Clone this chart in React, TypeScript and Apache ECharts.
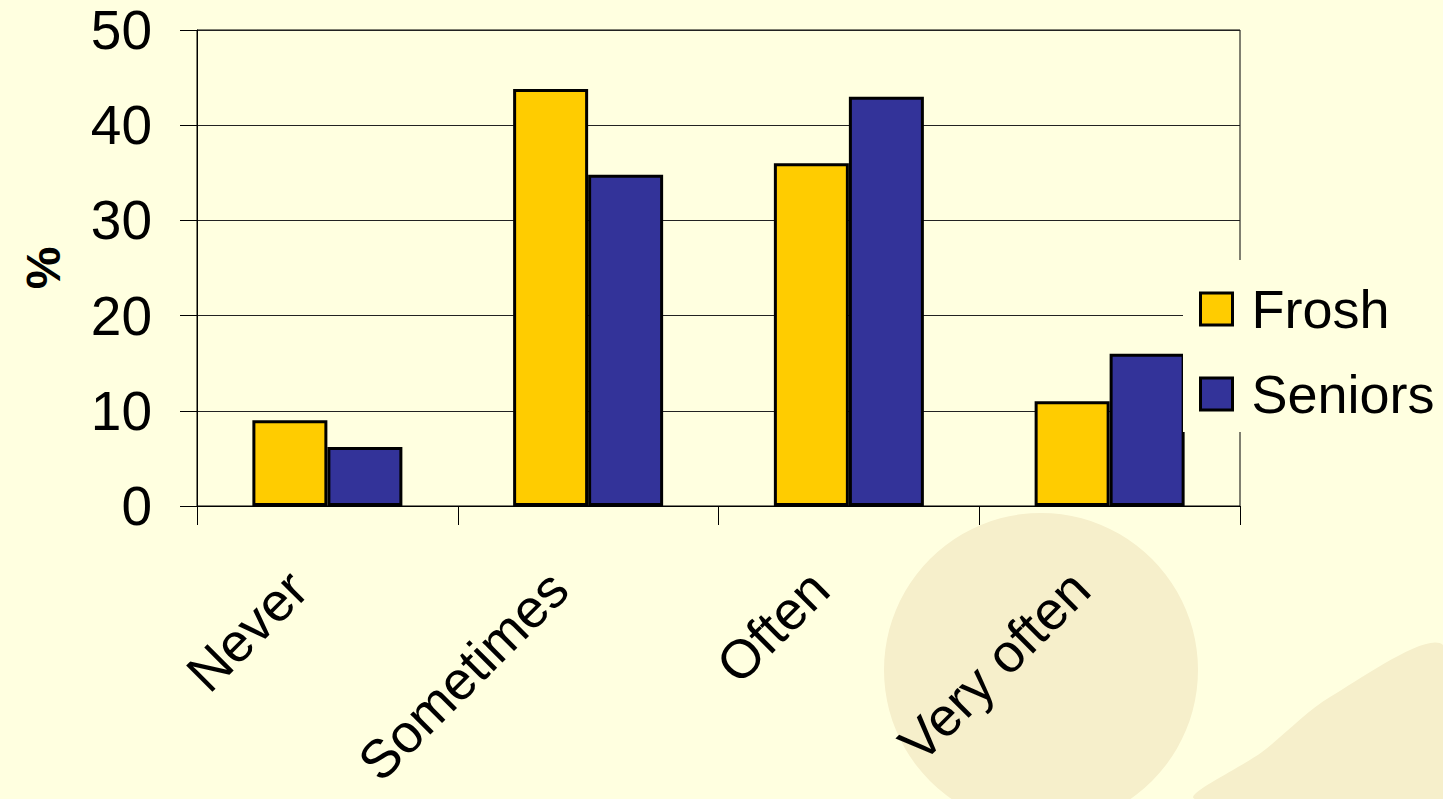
import React, { useEffect, useRef } from "react";
import * as echarts from "echarts";

const categories = ["Never", "Sometimes", "Often", "Very often"];
const frosh = [9, 43.8, 36, 11];
const seniors = [6.2, 34.8, 43, 16];
const yTicks = { min: 0, max: 50, interval: 10 };
const seriesNames = ["Frosh", "Seniors"];

export default function App() {
  const ref = useRef<HTMLDivElement>(null);
  useEffect(() => {
    if (!ref.current) return;
    const chart = echarts.init(ref.current, null, { renderer: "svg" });
    const font = "'Liberation Sans', Arial, sans-serif";
    chart.setOption({
      animation: false,
      backgroundColor: "#FFFFE0",
      textStyle: { fontFamily: font },
      graphic: [
        {
          type: "circle",
          z: -10,
          shape: { cx: 1041, cy: 670, r: 157 },
          style: { fill: "#F6EFCB" },
        },
        {
          type: "polygon",
          z: -10,
          shape: {
            points: [
              [1195, 799],
              [1262, 752],
              [1330, 697],
              [1443, 645],
              [1443, 799],
            ],
            smooth: 0.3,
          },
          style: { fill: "#F6EFCB" },
        },
      ],
      grid: {
        left: 197,
        right: 203,
        top: 30,
        bottom: 293,
        outerBoundsMode: "none",
        containLabel: false,
        show: true,
        borderColor: "#000",
        borderWidth: 1,
        backgroundColor: "transparent",
      },
      legend: {
        orient: "vertical",
        left: 1183,
        top: 260,
        padding: [22, 10, 11, 16],
        backgroundColor: "#FFFFE0",
        itemWidth: 32,
        itemHeight: 32,
        itemGap: 31,
        icon: "rect",
        itemStyle: { borderColor: "#000", borderWidth: 3 },
        textStyle: {
          fontSize: 54,
          color: "#000",
          fontFamily: font,
          padding: [0, 0, 0, 14],
        },
        data: seriesNames,
      },
      xAxis: {
        type: "category",
        data: categories,
        axisLine: { lineStyle: { color: "#000", width: 1 } },
        axisTick: { show: true, length: 19, lineStyle: { color: "#000" } },
        axisLabel: {
          rotate: 45,
          margin: 44,
          fontSize: 54,
          lineHeight: 54,
          color: "#000",
          fontFamily: font,
          interval: 0,
          padding: [0, 42, 0, 0],
        },
      },
      yAxis: {
        type: "value",
        min: yTicks.min,
        max: yTicks.max,
        interval: yTicks.interval,
        name: "%",
        nameLocation: "middle",
        nameRotate: 90,
        nameGap: 130,
        nameTextStyle: {
          fontSize: 48,
          fontWeight: "bold",
          color: "#000",
          fontFamily: font,
        },
        axisLine: { show: true, lineStyle: { color: "#000", width: 1 } },
        axisTick: { show: true, length: 17, lineStyle: { color: "#000" } },
        axisLabel: { margin: 45, fontSize: 55, color: "#000", fontFamily: font },
        splitLine: { show: true, lineStyle: { color: "#222", width: 1 } },
      },
      series: [
        {
          name: seriesNames[0],
          type: "bar",
          data: frosh,
          barWidth: 75,
          barGap: "0%",
          itemStyle: { color: "#FFCC00", borderColor: "#000", borderWidth: 3 },
        },
        {
          name: seriesNames[1],
          type: "bar",
          data: seniors,
          barWidth: 75,
          barGap: "0%",
          itemStyle: { color: "#333399", borderColor: "#000", borderWidth: 3 },
        },
      ],
    });
    return () => chart.dispose();
  }, []);
  return <div ref={ref} style={{ width: 1443, height: 799, position: "absolute", left: 0, top: 0 }} />;
}
